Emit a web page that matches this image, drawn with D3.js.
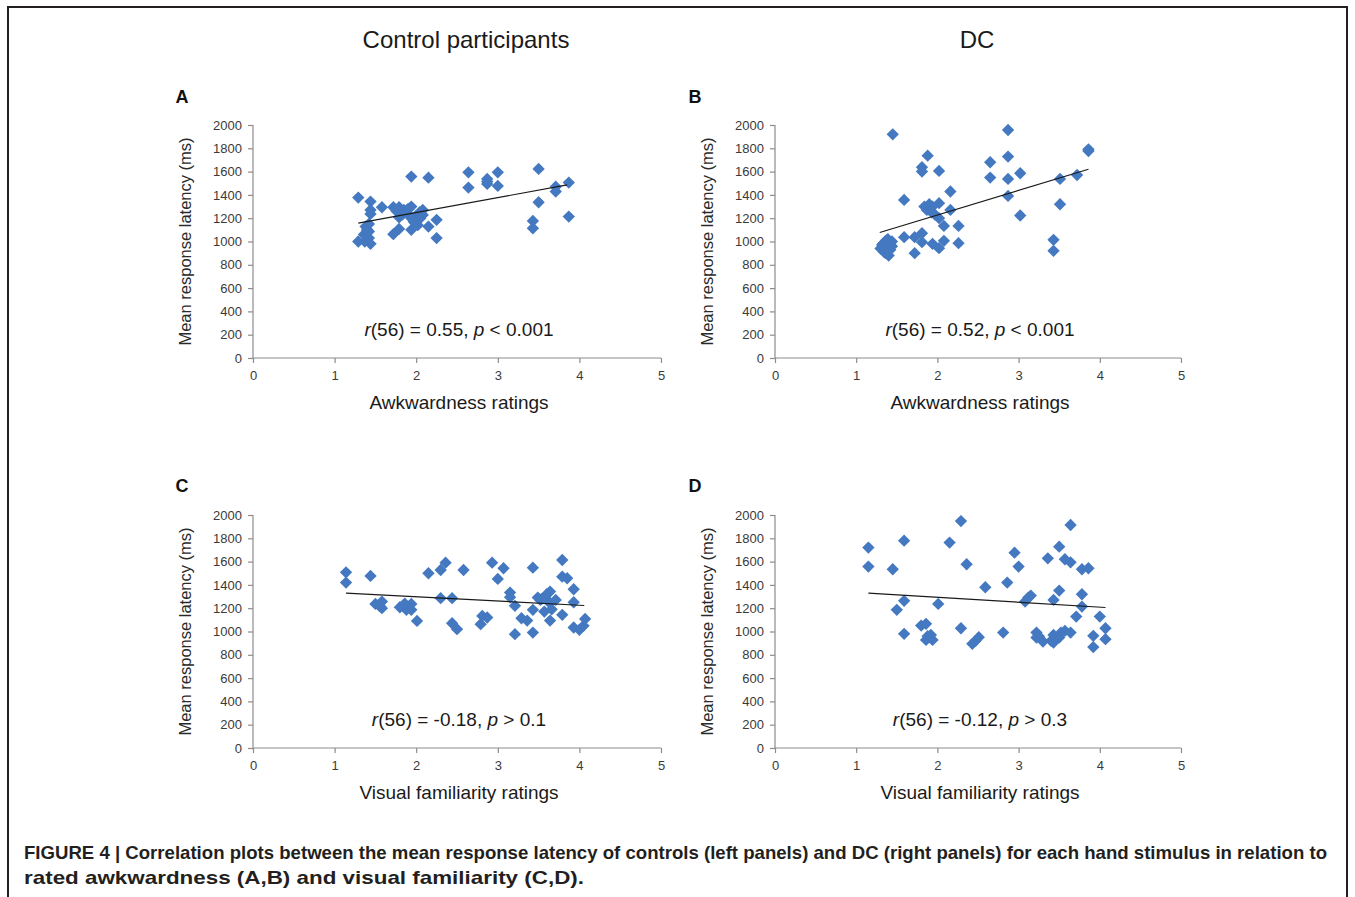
<!DOCTYPE html>
<html>
<head>
<meta charset="utf-8">
<script src="https://cdn.jsdelivr.net/npm/d3@7"></script>
<style>
  html, body { margin: 0; padding: 0; background: #fff; }
  svg { display: block; font-family: "Liberation Sans", Arial, sans-serif; }
</style>
</head>
<body>
<svg id="chart" width="1355" height="897"></svg>
<script>
// ---------------- DATA ----------------
const columnTitles = ["Control participants", "DC"];
const panelLetters = ["A", "B", "C", "D"];
const xLabels = ["Awkwardness ratings", "Awkwardness ratings", "Visual familiarity ratings", "Visual familiarity ratings"];
const yLabel = "Mean response latency (ms)";
const xTicks = [0, 1, 2, 3, 4, 5];
const yTicks = [0, 200, 400, 600, 800, 1000, 1200, 1400, 1600, 1800, 2000];
const stats = [
  ["r", "(56) = 0.55, ", "p", " < 0.001"],
  ["r", "(56) = 0.52, ", "p", " < 0.001"],
  ["r", "(56) = -0.18, ", "p", " > 0.1"],
  ["r", "(56) = -0.12, ", "p", " > 0.3"]
];

// Panel A: controls, awkwardness
const aX = [1.29,1.29,1.44,1.44,1.44,1.38,1.42,1.38,1.42,1.44,1.40,1.36,1.42,1.58,1.72,1.72,1.79,1.79,1.79,1.85,1.89,1.94,1.94,1.94,1.94,1.99,1.99,2.01,2.08,2.08,2.15,2.15,2.25,2.25,2.64,2.64,2.87,2.87,2.87,3.00,3.00,3.43,3.43,3.50,3.50,3.71,3.71,3.87,3.87,2.04,1.83,1.97,2.05,1.76,1.40,1.37,1.90,2.02];
const aY = [1377,1000,1343,1271,1237,1128,1086,1049,1029,980,1100,1060,1150,1294,1294,1063,1294,1208,1108,1271,1243,1557,1300,1200,1100,1214,1157,1186,1271,1228,1548,1128,1186,1029,1594,1463,1537,1494,1514,1594,1477,1177,1114,1623,1337,1471,1429,1506,1214,1250,1230,1170,1200,1260,1090,1000,1280,1140];

// Panel B: DC, awkwardness
const bX = [1.45,1.34,1.38,1.34,1.40,1.44,1.36,1.41,1.30,1.59,1.59,1.72,1.72,1.81,1.81,1.81,1.81,1.88,1.87,1.91,1.94,1.94,2.02,2.02,2.02,2.02,2.08,2.08,2.16,2.16,2.26,2.26,2.65,2.65,2.87,2.87,2.87,2.87,3.02,3.02,3.43,3.43,3.51,3.51,3.72,3.86,3.86,1.93,1.39,1.32,1.42,1.36,1.90,1.97,1.84,1.37,1.44,1.33];
const bY = [1920,986,957,914,880,1000,1000,960,940,1357,1037,1037,900,1071,994,1637,1600,1737,1271,1286,1300,980,1606,1329,1200,943,1134,1006,1429,1271,1134,986,1680,1549,1957,1729,1537,1391,1586,1223,1014,920,1537,1320,1571,1791,1777,1250,1020,970,930,900,1320,1230,1300,1010,960,980];

// Panel C: controls, visual familiarity
const cX = [1.14,1.14,1.44,1.50,1.55,1.58,1.58,1.80,1.85,1.88,1.94,1.94,2.01,2.15,2.30,2.30,2.36,2.44,2.44,2.50,2.58,2.79,2.81,2.87,2.93,3.00,3.07,3.15,3.15,3.21,3.21,3.29,3.36,3.43,3.43,3.43,3.49,3.52,3.57,3.58,3.64,3.64,3.64,3.71,3.79,3.79,3.79,3.85,3.93,3.93,3.93,4.00,4.05,4.07,3.66,3.60,1.86,3.54];
const cY = [1508,1420,1477,1237,1220,1257,1200,1208,1220,1186,1237,1186,1091,1500,1528,1286,1591,1286,1071,1020,1528,1063,1134,1120,1591,1451,1543,1334,1294,1220,977,1114,1094,1548,1186,991,1291,1271,1171,1294,1343,1243,1094,1271,1614,1471,1143,1457,1363,1251,1034,1014,1049,1108,1190,1320,1240,1280];

// Panel D: DC, visual familiarity
const dX = [1.15,1.15,1.45,1.50,1.59,1.59,1.59,1.80,1.86,1.86,1.92,1.94,2.01,2.15,2.29,2.29,2.36,2.43,2.47,2.51,2.59,2.81,2.86,2.95,3.00,3.08,3.12,3.15,3.22,3.22,3.30,3.36,3.43,3.43,3.43,3.50,3.50,3.50,3.57,3.57,3.64,3.64,3.64,3.71,3.78,3.78,3.78,3.86,3.92,3.92,4.00,4.07,4.07,3.46,1.88,3.25,3.52,3.40];
const dY = [1720,1557,1534,1186,1780,1263,980,1051,1066,928,971,928,1237,1763,1948,1028,1577,894,920,951,1380,991,1420,1677,1557,1257,1291,1308,991,948,914,1628,1271,971,905,1728,1351,948,1620,1006,1914,1594,991,1128,1534,1320,1214,1543,963,866,1128,1028,934,940,960,960,990,920];

// Trend lines: [x0, y0, x1, y1]
const trendA = [1.29, 1157, 3.85, 1486];
const trendB = [1.29, 1077, 3.86, 1620];
const trendC = [1.14, 1329, 4.06, 1223];
const trendD = [1.15, 1329, 4.07, 1206];

const panelsX = [aX, bX, cX, dX];
const panelsY = [aY, bY, cY, dY];
const trends = [trendA, trendB, trendC, trendD];

const captionLines = [
  "FIGURE 4 | Correlation plots between the mean response latency of controls (left panels) and DC (right panels) for each hand stimulus in relation to",
  "rated awkwardness (A,B) and visual familiarity (C,D)."
];

// ---------------- LAYOUT ----------------
const svg = d3.select("#chart");
const W = 1355, H = 897;
svg.append("rect").attr("width", W).attr("height", H).attr("fill", "#fff");

// frame
svg.append("rect")
  .attr("x", 8).attr("y", 7).attr("width", 1339).attr("height", 905)
  .attr("fill", "none").attr("stroke", "#231f20").attr("stroke-width", 2);

const panelGeom = [
  { x0: 253, x1: 661, yb: 358, yt: 125, lx: 182, ly: 103 },
  { x0: 775, x1: 1181, yb: 358, yt: 125, lx: 695, ly: 103 },
  { x0: 253, x1: 661, yb: 748, yt: 515, lx: 182, ly: 492 },
  { x0: 775, x1: 1181, yb: 748, yt: 515, lx: 695, ly: 492 }
];

const markerColor = "#4479c1";
const axisColor = "#8c8c8c";
const tickTextColor = "#3a3a3a";

// column titles
svg.append("text").attr("x", 466).attr("y", 48).attr("text-anchor", "middle")
  .attr("font-size", 24).attr("fill", "#1a1a1a").text(columnTitles[0]);
svg.append("text").attr("x", 977).attr("y", 48).attr("text-anchor", "middle")
  .attr("font-size", 24).attr("fill", "#1a1a1a").text(columnTitles[1]);

const diamond = d3.symbol().type(d3.symbolSquare).size(76);

panelGeom.forEach((g, i) => {
  const x = d3.scaleLinear().domain([0, 5]).range([g.x0, g.x1]);
  const y = d3.scaleLinear().domain([0, 2000]).range([g.yb, g.yt]);
  const p = svg.append("g");

  // panel letter
  svg.append("text").attr("x", g.lx).attr("y", g.ly).attr("text-anchor", "middle")
    .attr("font-size", 18).attr("font-weight", "bold").attr("fill", "#111").text(panelLetters[i]);

  // y axis
  const yAx = p.append("g").attr("transform", `translate(${g.x0},0)`)
    .call(d3.axisLeft(y).tickValues(yTicks).tickSize(5).tickPadding(6).tickFormat(d3.format("d")));
  // x axis
  const xAx = p.append("g").attr("transform", `translate(0,${g.yb})`)
    .call(d3.axisBottom(x).tickValues(xTicks).tickSize(5).tickPadding(8).tickFormat(d3.format("d")));
  [yAx, xAx].forEach(ax => {
    ax.select(".domain").attr("stroke", axisColor).attr("stroke-width", 1.2);
    ax.selectAll(".tick line").attr("stroke", axisColor).attr("stroke-width", 1.2);
    ax.selectAll(".tick text").attr("fill", tickTextColor)
      .attr("font-size", 13).attr("font-family", "'Liberation Sans', Arial, sans-serif");
  });
  yAx.select(".domain").attr("d", `M0,${g.yb}V${g.yt}`);
  xAx.select(".domain").attr("d", `M${g.x0},0H${g.x1}`);

  // axis labels
  svg.append("text")
    .attr("transform", `translate(${g.x0 - 62},${(g.yb + g.yt) / 2}) rotate(-90)`)
    .attr("text-anchor", "middle").attr("font-size", 16.5).attr("fill", "#2a2a2a")
    .text(yLabel);
  svg.append("text").attr("x", (g.x0 + g.x1) / 2 + 2).attr("y", g.yb + 51)
    .attr("text-anchor", "middle").attr("font-size", 19).attr("fill", "#1a1a1a")
    .text(xLabels[i]);

  // points
  const xs = panelsX[i], ys = panelsY[i];
  p.append("g").selectAll("path").data(xs.map((v, k) => [v, ys[k]])).join("path")
    .attr("d", diamond)
    .attr("transform", d => `translate(${x(d[0])},${y(d[1])}) rotate(45)`)
    .attr("fill", markerColor);

  // trend line
  const t = trends[i];
  p.append("line")
    .attr("x1", x(t[0])).attr("y1", y(t[1])).attr("x2", x(t[2])).attr("y2", y(t[3]))
    .attr("stroke", "#1a1a1a").attr("stroke-width", 1.2);

  // statistics annotation
  const s = stats[i];
  const st = svg.append("text").attr("x", (g.x0 + g.x1) / 2 + 2).attr("y", g.yb - 22)
    .attr("text-anchor", "middle").attr("font-size", 19).attr("fill", "#1a1a1a");
  st.append("tspan").attr("font-style", "italic").text(s[0]);
  st.append("tspan").text(s[1]);
  st.append("tspan").attr("font-style", "italic").text(s[2]);
  st.append("tspan").text(s[3]);
});

// caption
const captionWidths = [1303, 560];
captionLines.forEach((line, k) => {
  svg.append("text").attr("x", 24).attr("y", 859 + k * 25)
    .attr("font-size", 18.5).attr("font-weight", "bold").attr("fill", "#231f20")
    .attr("textLength", captionWidths[k]).attr("lengthAdjust", "spacingAndGlyphs")
    .text(line);
});
</script>
</body>
</html>
